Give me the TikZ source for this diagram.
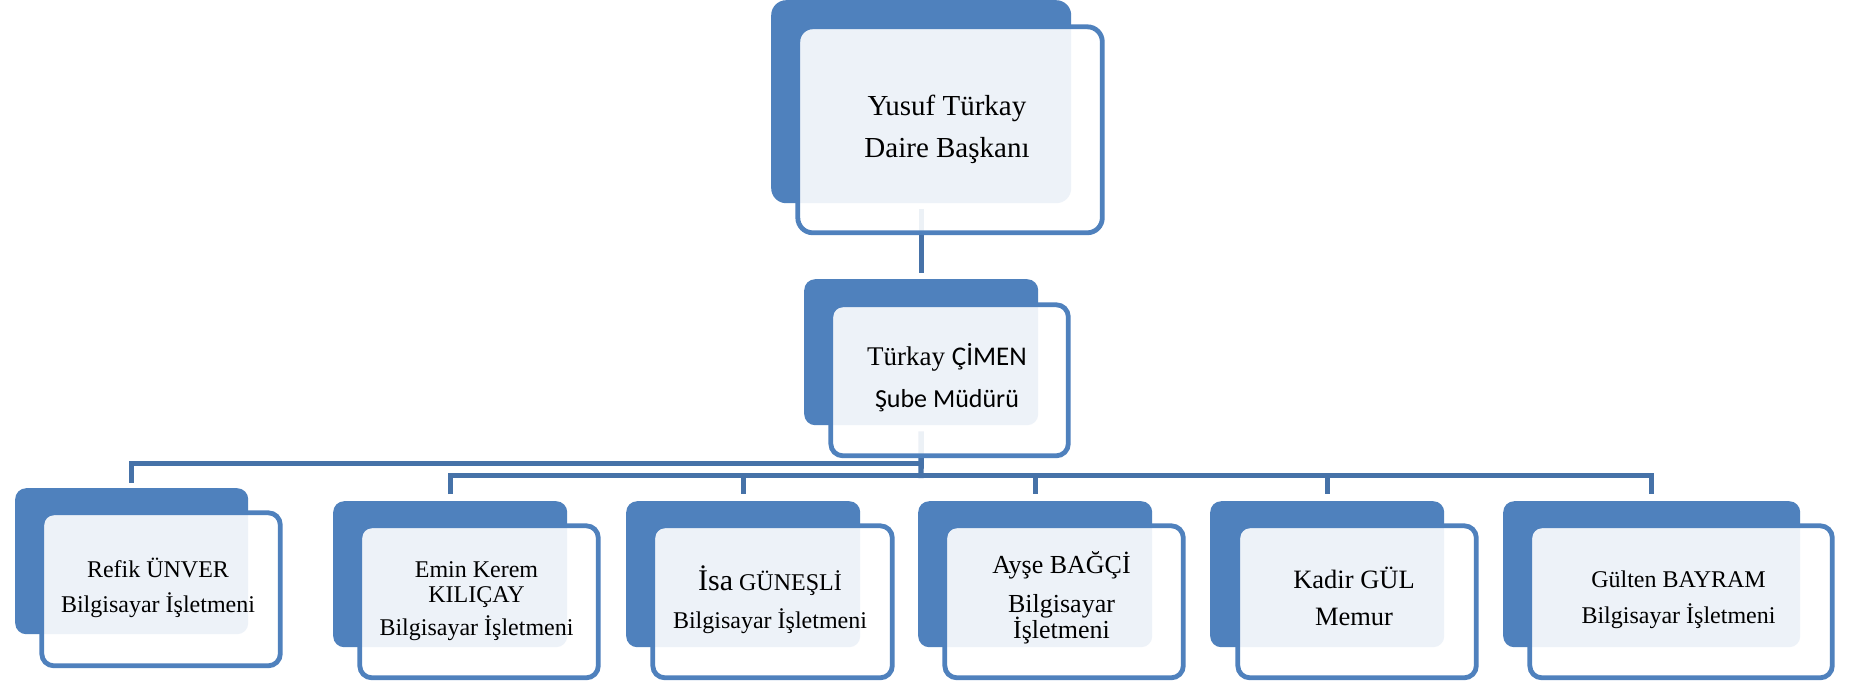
\documentclass[tikz,border=0pt]{standalone}
\usepackage{fontspec}
\setmainfont{Liberation Serif}
\newfontfamily\carl{Carlito}
\usetikzlibrary{backgrounds}
\definecolor{boxblue}{HTML}{4F81BD}
\definecolor{lineblue}{HTML}{4672A8}
\tikzset{
  back/.style={rectangle, fill=boxblue, rounded corners=11pt, inner sep=0pt, anchor=north west},
  backbig/.style={back, rounded corners=15pt},
  front/.style={rectangle, draw=boxblue, line width=4.8pt, fill=white, fill opacity=0.9, rounded corners=12pt, inner sep=0pt, anchor=north west},
  frontbig/.style={front, rounded corners=15pt},
  conn/.style={draw=lineblue, line width=5.4pt},
  txt/.style={anchor=base, inner sep=0pt, text=black},
}
\begin{document}
\begin{tikzpicture}[x=1pt,y=-1pt]
\useasboundingbox (0,0) rectangle (1854,680);

% back (dark) boxes
\node[backbig, minimum width=300pt, minimum height=203pt] (d0) at (771,0) {};
\node[back, minimum width=234pt, minimum height=146pt] (d1) at (804,279) {};
\node[back, minimum width=233pt, minimum height=146pt] (k1) at (15,488) {};
\node[back, minimum width=234pt, minimum height=146pt] (k2) at (333,501) {};
\node[back, minimum width=234pt, minimum height=146pt] (k3) at (626,501) {};
\node[back, minimum width=234pt, minimum height=146pt] (k4) at (918,501) {};
\node[back, minimum width=234pt, minimum height=146pt] (k5) at (1210,501) {};
\node[back, minimum width=297pt, minimum height=146pt] (k6) at (1503,501) {};

% connectors behind
\coordinate (busA) at (921,463.3);
\coordinate (busB) at (921,475.5);
\begin{scope}[on background layer]
  \fill[white] (0,0) rectangle (1854,680);
  \draw[conn, shorten <=6pt, shorten >=6pt] (d0.south) -- (d1.north);
  \draw[conn, shorten <=6pt] (d1.south) -- ([yshift=-2.7pt]busB);
  \draw[conn, shorten >=5pt] (busA) -| (k1.north);
  \draw[conn, shorten <=7pt, shorten >=7pt] (k2.north) |- (busB) -| (k6.north);
  \draw[conn, shorten >=7pt] (k3.north |- busB) -- (k3.north);
  \draw[conn, shorten >=7pt] (k4.north |- busB) -- (k4.north);
  \draw[conn, shorten >=7pt] (k5.north |- busB) -- (k5.north);
\end{scope}

% front boxes
\node[frontbig, minimum width=304.5pt, minimum height=206pt] (b0) at (795.4,24.4) {};
\node[front, minimum width=237.5pt, minimum height=151pt] (b1) at (828.4,302.4) {};
\node[front, minimum width=238.5pt, minimum height=153pt] (c1) at (39.4,510.4) {};
\node[front, minimum width=238.5pt, minimum height=152pt] (c2) at (357.4,523.4) {};
\node[front, minimum width=239.5pt, minimum height=152pt] (c3) at (650.4,523.4) {};
\node[front, minimum width=238.5pt, minimum height=152pt] (c4) at (942.4,523.4) {};
\node[front, minimum width=238.5pt, minimum height=152pt] (c5) at (1235.4,523.4) {};
\node[front, minimum width=302.5pt, minimum height=152pt] (c6) at (1527.4,523.4) {};

% texts
\node[txt, font=\fontsize{29}{35}\selectfont] (t0a) at (947,115) {Yusuf Türkay};
\node[txt, font=\fontsize{29}{35}\selectfont] (t0b) at (947,157) {Daire Başkanı};

\node[txt, font=\fontsize{27}{32}\selectfont] (t1a) at (947,365) {Türkay {\carl ÇİMEN}};
\node[txt, font=\carl\fontsize{26}{31}\selectfont] (t1b) at (947,407) {Şube Müdürü};

\node[txt, font=\fontsize{24}{29}\selectfont] (r1a) at (158,577) {Refik ÜNVER};
\node[txt, font=\fontsize{24}{29}\selectfont] (r1b) at (158,612) {Bilgisayar İşletmeni};

\node[txt, font=\fontsize{24}{29}\selectfont] (r2a) at (476.5,577) {Emin Kerem};
\node[txt, font=\fontsize{24}{29}\selectfont] (r2b) at (476.5,602) {KILIÇAY};
\node[txt, font=\fontsize{24}{29}\selectfont] (r2c) at (476.5,635) {Bilgisayar İşletmeni};

\node[txt, font=\fontsize{24}{29}\selectfont] (r3a) at (770,590) {{\fontsize{30}{36}\selectfont İsa} GÜNEŞLİ};
\node[txt, font=\fontsize{24}{29}\selectfont] (r3b) at (770,628) {Bilgisayar İşletmeni};

\node[txt, font=\fontsize{26}{31}\selectfont] (r4a) at (1061.5,573) {Ayşe BAĞÇİ};
\node[txt, font=\fontsize{26}{31}\selectfont] (r4b) at (1061.5,612) {Bilgisayar};
\node[txt, font=\fontsize{26}{31}\selectfont] (r4c) at (1061.5,638) {İşletmeni};

\node[txt, font=\fontsize{26.5}{32}\selectfont] (r5a) at (1354,588) {Kadir GÜL};
\node[txt, font=\fontsize{26.5}{32}\selectfont] (r5b) at (1354,625) {Memur};

\node[txt, font=\fontsize{24}{29}\selectfont] (r6a) at (1678.5,587) {Gülten BAYRAM};
\node[txt, font=\fontsize{24}{29}\selectfont] (r6b) at (1678.5,623) {Bilgisayar İşletmeni};
\end{tikzpicture}
\end{document}
